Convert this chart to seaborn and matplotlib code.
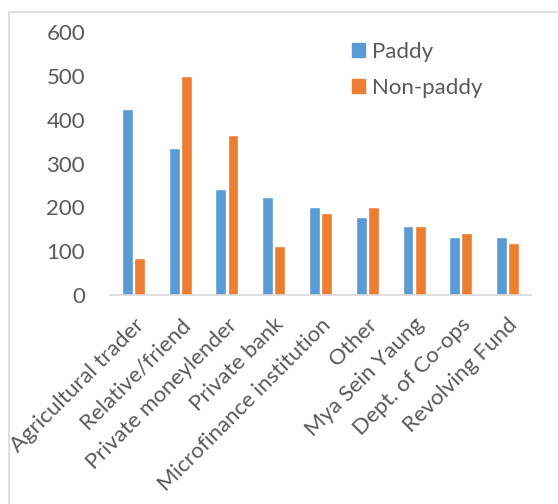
import matplotlib.pyplot as plt
import matplotlib.patches as mpatches
import seaborn as sns
import pandas as pd

categories = ["Agricultural trader", "Relative/friend", "Private moneylender",
              "Private bank", "Microfinance institution", "Other",
              "Mya Sein Yaung", "Dept. of Co-ops", "Revolving Fund"]
paddy = [425, 335, 241, 224, 200, 178, 157, 133, 133]
non_paddy = [84, 500, 365, 111, 186, 200, 157, 141, 119]
series = ["Paddy", "Non-paddy"]
colors = ["#5B9BD5", "#ED7D31"]
y_ticks = [0, 100, 200, 300, 400, 500, 600]

df = pd.DataFrame({
    "Source": categories * 2,
    "Value": paddy + non_paddy,
    "Type": [series[0]] * len(categories) + [series[1]] * len(categories),
})

sns.set_theme(style="white")
plt.rcParams["font.family"] = ["Lato", "DejaVu Sans"]
text_color = "#595959"
line_color = "#D9D9D9"

fig = plt.figure(figsize=(5.58, 5.04), dpi=100)
ax = fig.add_axes([110 / 558, 1 - 295 / 504, 421 / 558, 263 / 504])

sns.barplot(data=df, x="Source", y="Value", hue="Type", palette=colors,
            width=0.52, gap=0.1, saturation=1, ax=ax, legend=False)

ax.set_ylim(0, 600)
ax.set_yticks(y_ticks)
ax.set_xlabel("")
ax.set_ylabel("")
ax.tick_params(axis="y", length=0, labelsize=16, colors=text_color, pad=18)
ax.tick_params(axis="x", length=0, labelsize=16, colors=text_color, pad=14)
plt.setp(ax.get_xticklabels(), rotation=45, ha="right", rotation_mode="anchor")

for side in ["left", "right", "top"]:
    ax.spines[side].set_visible(False)
ax.spines["bottom"].set_color(line_color)
ax.spines["bottom"].set_linewidth(1.2)

handles = [mpatches.Patch(color=c, label=s) for c, s in zip(colors, series)]
fig.legend(handles=handles, loc="upper left", bbox_to_anchor=(332 / 558, 1 - 22 / 504),
           frameon=False, fontsize=16, labelcolor=text_color, handlelength=0.6,
           handleheight=0.6, handletextpad=0.3, labelspacing=0.7)

# outer chart border (cropped at right and bottom)
fig.add_artist(plt.Line2D([9 / 558, 9 / 558], [0, 1 - 12 / 504], color=line_color, lw=1.2))
fig.add_artist(plt.Line2D([9 / 558, 1], [1 - 12 / 504, 1 - 12 / 504], color=line_color, lw=1.2))

plt.savefig("out.png", dpi=100)
plt.close()
